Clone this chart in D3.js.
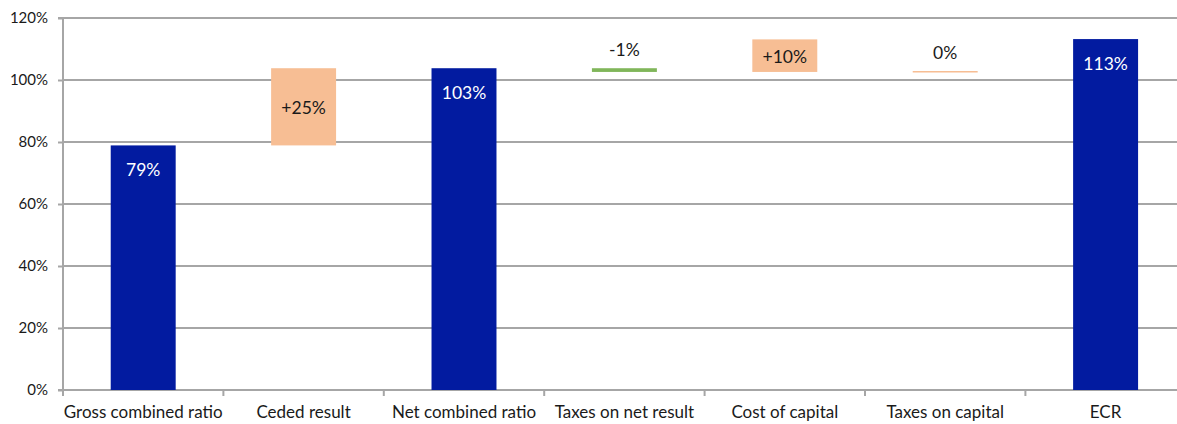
<!DOCTYPE html>
<html>
<head>
<meta charset="utf-8">
<script src="https://cdn.jsdelivr.net/npm/d3@7"></script>
<style>
  html, body { margin: 0; padding: 0; background: #fff; }
  svg { display: block; }
  text { font-family: Lato, "Open Sans", sans-serif; }
</style>
</head>
<body>
<svg id="chart" width="1177" height="424"></svg>
<script>
// ---- data ----
const categories = ["Gross combined ratio", "Ceded result", "Net combined ratio",
                    "Taxes on net result", "Cost of capital", "Taxes on capital", "ECR"];
const barBase  = [0,    78.9, 0,     102.6, 102.6, 102.6, 0];   // bottom of each bar (%)
const barTop   = [78.9, 103.8, 103.8, 103.8, 113.1, 102.9, 113.2]; // top of each bar (%)
const barKind  = ["total", "up", "total", "down", "up", "up", "total"];
const barLabels = ["79%", "+25%", "103%", "-1%", "+10%", "0%", "113%"];
const labelPlace = ["inside", "middle", "inside", "above", "middle", "above", "inside"];
const yTicks = [0, 20, 40, 60, 80, 100, 120];

// ---- layout ----
const svg = d3.select("#chart");
const padL = 63, padT = 18, baseY = 390;
const step = 160.4;
const plotR = padL + step * categories.length;

const x = d3.scaleBand().domain(categories).range([padL, plotR]).paddingInner(0).paddingOuter(0);
const y = d3.scaleLinear().domain([0, 120]).range([baseY, padT]);
const barW = x.bandwidth() * 0.405;

const colors = { total: "#021BA0", up: "#F7BE94", down: "#80B65A" };
const grid = "#A6A6A6";

// gridlines
svg.append("g").selectAll("line").data(yTicks.filter(d => d > 0)).join("line")
  .attr("x1", padL).attr("x2", 1177)
  .attr("y1", d => y(d)).attr("y2", d => y(d))
  .attr("stroke", grid).attr("stroke-width", 2);

// y axis
const yAxis = d3.axisLeft(y).tickValues(yTicks).tickFormat(d => d + "%").tickSize(5).tickPadding(10);
const gy = svg.append("g").attr("transform", `translate(${padL},0)`).call(yAxis);
gy.select(".domain").attr("stroke", grid).attr("stroke-width", 2).attr("d", `M-5,${padT}H0V${baseY}H-5`);
gy.selectAll(".tick line").attr("stroke", grid).attr("stroke-width", 2);
gy.selectAll(".tick text").attr("fill", "#1a1a1a").style("font-size", "15px")
  .style("font-family", 'Lato, sans-serif');

// x axis
svg.append("line").attr("x1", padL).attr("x2", 1177).attr("y1", baseY).attr("y2", baseY)
  .attr("stroke", grid).attr("stroke-width", 2);
svg.append("g").selectAll("line").data(d3.range(categories.length + 1)).join("line")
  .attr("x1", i => padL + i * x.step()).attr("x2", i => padL + i * x.step())
  .attr("y1", baseY).attr("y2", baseY + 6)
  .attr("stroke", grid).attr("stroke-width", 2);
svg.append("g").selectAll("text").data(categories).join("text")
  .attr("x", d => x(d) + x.bandwidth() / 2).attr("y", 418)
  .attr("text-anchor", "middle").attr("fill", "#1a1a1a")
  .style("font-size", "17px").text(d => d);

// bars
const bars = categories.map((c, i) => ({ c, b: barBase[i], t: barTop[i], k: barKind[i], l: barLabels[i], p: labelPlace[i] }));
svg.append("g").selectAll("rect").data(bars).join("rect")
  .attr("x", d => x(d.c) + (x.bandwidth() - barW) / 2)
  .attr("width", barW)
  .attr("y", d => y(d.t))
  .attr("height", d => Math.max(1.5, y(d.b) - y(d.t)))
  .attr("fill", d => colors[d.k]);

// labels
svg.append("g").selectAll("text").data(bars).join("text")
  .attr("x", d => x(d.c) + x.bandwidth() / 2)
  .attr("y", d => d.p === "inside" ? y(d.t) + 31 : d.p === "middle" ? (y(d.t) + y(d.b)) / 2 + 7 : y(d.t) - 12)
  .attr("text-anchor", "middle")
  .attr("fill", d => d.p === "inside" ? "#ffffff" : "#1a1a1a")
  .style("font-size", "17.5px")
  .text(d => d.l);
</script>
</body>
</html>
